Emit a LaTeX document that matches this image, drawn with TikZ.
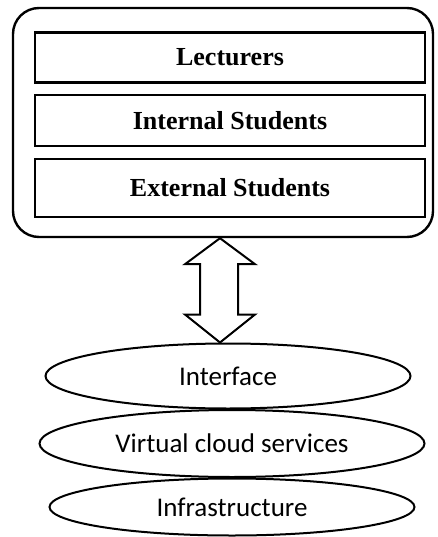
\documentclass[tikz,border=0pt]{standalone}
\usepackage{fontspec}
\setmainfont{Liberation Serif}
\newfontfamily\calib{Carlito}
\usetikzlibrary{shapes.geometric,calc}
\tikzset{
  layer/.style={draw, line width=2.6pt, minimum width=390pt, inner sep=0pt,
    font=\fontsize{26}{28}\selectfont\bfseries},
  tier/.style={draw, ellipse, line width=2pt, fill=white, inner sep=0pt,
    font=\calib\fontsize{27}{29}\selectfont},
  blockarrow/.style={draw, line width=2pt, fill=white, line join=miter}
}
\begin{document}
\begin{tikzpicture}[x=1pt,y=-1pt]
\useasboundingbox (0,0) rectangle (437,537);

% user group frame
\node[draw, line width=2.4pt, rounded corners=26pt, minimum width=420pt,
  minimum height=229pt, inner sep=0pt] (users) at (223,122.5) {};
\node[layer, minimum height=50pt] (lect) at (230,57.5) {Lecturers};
\node[layer, minimum height=51pt] (intst) at (230,120.5) {Internal Students};
\node[layer, minimum height=58pt] (extst) at (230,188) {External Students};

% service stack
\node[tier, minimum width=365pt, minimum height=65pt] (iface) at (228,376) {Interface};
\node[tier, minimum width=385pt, minimum height=67pt] (cloud) at (232,443.5) {Virtual cloud services};
\node[tier, minimum width=365pt, minimum height=57pt] (infra) at (232,507) {Infrastructure};

% two-way block arrow between users and interface
\coordinate (top) at ($(users.south)+(-3,0)$);
\coordinate (bot) at ($(iface.north)+(-8,0)$);
\draw[blockarrow]
  (top) -- ++(35,26) -- ++(-17,0) -- ($(bot)+(18,-28)$) -- ++(17,0)
  -- (bot) -- ++(-35,-28) -- ++(15,0) -- ($(top)+(-20,26)$) -- ++(-15,0) -- cycle;
\end{tikzpicture}
\end{document}
